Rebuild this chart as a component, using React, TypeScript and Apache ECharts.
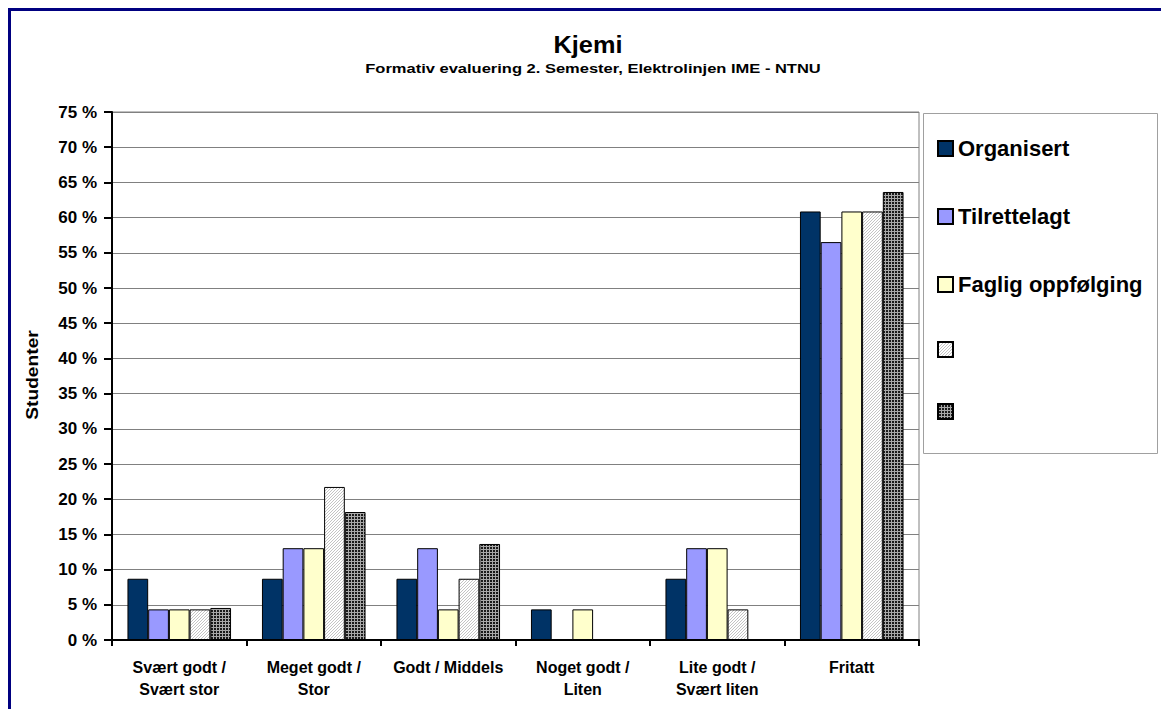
import React, { useEffect, useRef } from "react";
import * as echarts from "echarts";

const categories = [
  "Svært godt /\nSvært stor",
  "Meget godt /\nStor",
  "Godt / Middels",
  "Noget godt /\nLiten",
  "Lite godt /\nSvært liten",
  "Fritatt",
];
const seriesNames = ["Organisert", "Tilrettelagt", "Faglig oppfølging", "Serie 4", "Serie 5"];
const organisert = [8.7, 8.7, 8.7, 4.35, 8.7, 60.87];
const tilrettelagt = [4.35, 13.04, 13.04, 0, 13.04, 56.52];
const fagligOppfolging = [4.35, 13.04, 4.35, 4.35, 13.04, 60.87];
const serie4 = [4.35, 21.74, 8.7, 0, 4.35, 60.87];
const serie5 = [4.55, 18.18, 13.64, 0, 0, 63.64];
const yTicks = { min: 0, max: 75, interval: 5 };

const FONT = "'Liberation Sans', Arial, sans-serif";

function makeHatch() {
  const c = document.createElement("canvas");
  c.width = 3;
  c.height = 3;
  const ctx = c.getContext("2d")!;
  ctx.fillStyle = "#ffffff";
  ctx.fillRect(0, 0, 3, 3);
  ctx.fillStyle = "#c4c4c4";
  for (let i = 0; i < 3; i++) ctx.fillRect(i, 2 - i, 1, 1);
  return c;
}
function makeGrid() {
  const c = document.createElement("canvas");
  c.width = 3;
  c.height = 3;
  const ctx = c.getContext("2d")!;
  ctx.fillStyle = "#1a1a1a";
  ctx.fillRect(0, 0, 3, 3);
  ctx.fillStyle = "#a8a8a8";
  ctx.fillRect(0, 0, 3, 1);
  ctx.fillRect(0, 0, 1, 3);
  return c;
}

export default function App() {
  const ref = useRef<HTMLDivElement>(null);
  useEffect(() => {
    if (!ref.current) return;
    const chart = echarts.init(ref.current, null, { renderer: "svg" });
    const hatch = makeHatch();
    const grid = makeGrid();
    const colors: any[] = [
      "#003366",
      "#9999FF",
      "#FFFFCC",
      { image: hatch.toDataURL(), repeat: "repeat", imageWidth: 3, imageHeight: 3 },
      { image: grid.toDataURL(), repeat: "repeat", imageWidth: 3, imageHeight: 3 },
    ];
    const values = [organisert, tilrettelagt, fagligOppfolging, serie4, serie5];
    chart.setOption({
      animation: false,
      backgroundColor: "#ffffff",
      grid: {
        left: 112,
        right: 242,
        top: 112,
        bottom: 69,
        show: true,
        borderColor: "#808080",
        borderWidth: 1,
        containLabel: false,
      },
      legend: {
        orient: "vertical",
        left: 937,
        top: 137,
        itemWidth: 15,
        itemHeight: 15,
        itemGap: 45,
        icon: "rect",
        padding: 0,
        data: seriesNames,
        formatter: (n: string) => (n.startsWith("Serie ") ? "" : n),
        textStyle: {
          fontFamily: FONT,
          fontSize: 22,
          fontWeight: "bold",
          color: "#000",
          lineHeight: 23,
        },
      },
      xAxis: {
        type: "category",
        data: categories,
        axisLine: { lineStyle: { color: "#000", width: 2 } },
        axisTick: { show: true, length: 6, lineStyle: { color: "#000", width: 2 } },
        axisLabel: {
          margin: 16,
          fontFamily: FONT,
          fontSize: 16,
          fontWeight: "bold",
          color: "#000",
          lineHeight: 22,
          interval: 0,
        },
        splitLine: { show: false },
      },
      yAxis: {
        type: "value",
        min: yTicks.min,
        max: yTicks.max,
        interval: yTicks.interval,
        axisLine: { show: true, lineStyle: { color: "#000", width: 2 } },
        axisTick: { show: true, length: 8, lineStyle: { color: "#000", width: 2 } },
        axisLabel: {
          formatter: "{value} %",
          margin: 15,
          fontFamily: FONT,
          fontSize: 17,
          fontWeight: "bold",
          color: "#000",
        },
        splitLine: { lineStyle: { color: "#808080", width: 1 } },
      },
      series: values.map((v, i) => ({
        name: seriesNames[i],
        type: "bar",
        data: v,
        barGap: "0%",
        barCategoryGap: "23%",
        itemStyle: { color: colors[i], borderColor: "#000", borderWidth: 1 },
      })),
      graphic: [
        {
          type: "rect",
          shape: { x: 923.5, y: 113.5, width: 234, height: 340 },
          style: { fill: "none", stroke: "#a0a0a0", lineWidth: 1 },
          silent: true,
        },
        {
          type: "rect",
          shape: { x: 8, y: 8, width: 1153, height: 3 },
          style: { fill: "#000080" },
          silent: true,
        },
        {
          type: "rect",
          shape: { x: 8, y: 8, width: 3, height: 701 },
          style: { fill: "#000080" },
          silent: true,
        },
        {
          type: "text",
          x: 588,
          y: 45,
          scaleX: 1.1,
          style: {
            text: "Kjemi",
            fontFamily: FONT,
            fontSize: 23,
            fontWeight: "bold",
            fill: "#000",
            textAlign: "center",
            textVerticalAlign: "middle",
          },
        },
        {
          type: "text",
          x: 593,
          y: 69,
          scaleX: 1.27,
          style: {
            text: "Formativ evaluering 2. Semester, Elektrolinjen IME - NTNU",
            fontFamily: FONT,
            fontSize: 13,
            fontWeight: "bold",
            fill: "#000",
            textAlign: "center",
            textVerticalAlign: "middle",
          },
        },
        {
          type: "text",
          x: 33,
          y: 375,
          rotation: Math.PI / 2,
          scaleX: 1.2,
          style: {
            text: "Studenter",
            fontFamily: FONT,
            fontSize: 16,
            fontWeight: "bold",
            fill: "#000",
            textAlign: "center",
            textVerticalAlign: "middle",
          },
        },
      ],
    });
    return () => chart.dispose();
  }, []);
  return (
    <div
      ref={ref}
      style={{ position: "fixed", left: 0, top: 0, width: 1161, height: 709 }}
    />
  );
}
